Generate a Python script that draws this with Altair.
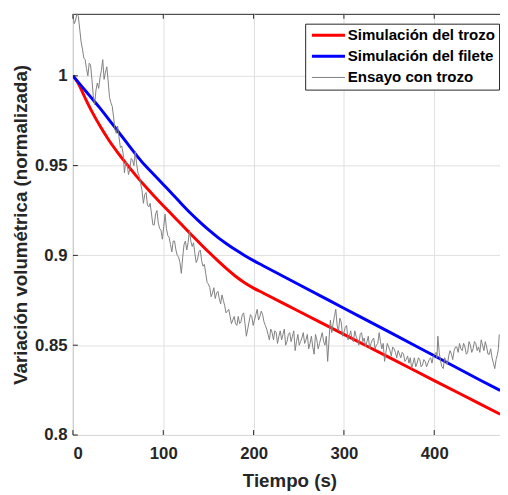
import altair as alt
import pandas as pd

series_names = ["Simulación del trozo", "Simulación del filete", "Ensayo con trozo"]
series_colors = ["#ff0000", "#0000ff", "#808080"]

red_t = [0, 5, 10, 15, 20, 30, 40, 50, 60, 70, 80, 90, 100, 110, 120, 130, 140, 150,
         160, 170, 180, 190, 200, 210, 250, 300, 350, 400, 450, 473]
red_v = [1.000, 0.9965, 0.9915, 0.986, 0.981, 0.972, 0.964, 0.957, 0.9505, 0.9443, 0.9385,
         0.933, 0.9277, 0.9225, 0.9173, 0.9121, 0.907, 0.902, 0.8972, 0.8926, 0.8884,
         0.8848, 0.8818, 0.8792, 0.8689, 0.856, 0.8432, 0.8303, 0.8175, 0.8116]

blue_t = [0, 10, 20, 30, 40, 50, 60, 70, 80, 90, 100, 110, 120, 130, 140, 150, 160,
          170, 180, 190, 200, 210, 250, 300, 350, 400, 450, 473]
blue_v = [1.000, 0.994, 0.988, 0.982, 0.9755, 0.969, 0.9625, 0.956, 0.950, 0.9448, 0.9395,
          0.9342, 0.9288, 0.9236, 0.9188, 0.9143, 0.9102, 0.9065, 0.9031, 0.9000, 0.8971,
          0.8944, 0.8838, 0.8706, 0.8574, 0.8441, 0.8308, 0.8248]

# measured test, samples read on a 3-s grid
test_t = [0, 3, 6, 9, 12, 15, 18, 21, 24, 27, 30, 33, 36, 39, 42, 45, 48, 51, 54, 57,
          60, 63, 66, 69, 72, 75, 78, 81, 84, 87, 90, 93, 96, 99, 102, 105, 108, 111, 114,
          117, 120, 123, 126, 129, 132, 135, 138, 141, 144, 147, 150, 153, 156, 159, 162,
          165, 168, 171, 174, 177, 180, 183, 186, 189, 192, 195, 198, 201, 204, 207, 210,
          213, 216, 219, 222, 225, 228, 231, 234, 237, 240, 243, 246, 249, 252, 255, 258,
          261, 264, 267, 270, 273, 276, 279, 282, 285, 288, 291, 294, 297, 300, 303, 306,
          309, 312, 315, 318, 321, 324, 327, 330, 333, 336, 339, 342, 345, 348, 351, 354,
          357, 360, 363, 366, 369, 372, 375, 378, 381, 384, 387, 390, 393, 396, 399, 402,
          404, 407, 410, 413, 416, 419, 422, 425, 428, 431, 434, 437, 440, 443, 446, 449,
          452, 455, 458, 461, 464, 467, 470, 472]
test_v = [1.034, 1.031, 1.033, 1.019, 1.010, 1.004, 1.007, 0.998, 0.984, 0.996, 0.999,
          1.009, 1.002, 0.997, 0.985, 0.977, 0.968, 0.966, 0.961, 0.946, 0.951, 0.948,
          0.953, 0.958, 0.946, 0.940, 0.929, 0.935, 0.927, 0.923, 0.917, 0.925, 0.915,
          0.909, 0.923, 0.911, 0.906, 0.908, 0.903, 0.899, 0.890, 0.906, 0.903, 0.914,
          0.905, 0.901, 0.898, 0.903, 0.894, 0.890, 0.884, 0.877, 0.882, 0.879, 0.876,
          0.878, 0.872, 0.869, 0.866, 0.864, 0.862, 0.866, 0.863, 0.868, 0.855, 0.863,
          0.866, 0.864, 0.870, 0.866, 0.867, 0.861, 0.856, 0.859, 0.853, 0.857, 0.855,
          0.853, 0.859, 0.852, 0.857, 0.855, 0.847, 0.856, 0.852, 0.857, 0.853, 0.848,
          0.855, 0.845, 0.853, 0.851, 0.857, 0.850, 0.841, 0.864, 0.862, 0.870, 0.858,
          0.863, 0.857, 0.861, 0.855, 0.853, 0.858, 0.853, 0.856, 0.852, 0.849, 0.855,
          0.851, 0.854, 0.850, 0.857, 0.848, 0.841, 0.851, 0.847, 0.849, 0.846, 0.847,
          0.843, 0.845, 0.842, 0.840, 0.837, 0.843, 0.840, 0.842, 0.839, 0.841, 0.840,
          0.843, 0.844, 0.846, 0.855, 0.841, 0.837, 0.841, 0.844, 0.845, 0.847, 0.849,
          0.851, 0.847, 0.849, 0.846, 0.850, 0.848, 0.851, 0.849, 0.853, 0.847, 0.849,
          0.845, 0.843, 0.837, 0.845, 0.856]

# measured test, samples read between the grid points
test_t_mid = [1.5, 4.5, 7.5, 10.5, 13.5, 16.5, 19.5, 22.5, 25.5, 28.5, 31.5, 34.5, 37.5,
              40.5, 43.5, 46.5, 49.5, 52.5, 55.5, 58.5, 61.5, 64.5, 67.5, 70.5, 73.5, 76.5,
              79.5, 82.5, 85.5, 88.5, 91.5, 94.5, 97.5, 100.5, 103.5, 106.5, 109.5, 112.5,
              115.5, 118.5, 121.5, 124.5, 127.5, 130.5, 133.5, 136.5, 139.5, 142.5, 145.5,
              148.5, 151.5, 154.5, 157.5, 160.5, 163.5, 166.5, 169.5, 172.5, 175.5, 178.5,
              181.5, 184.5, 187.5, 190.5, 193.5, 196.5, 199.5, 202.5, 205.5, 208.5, 211.5,
              214.5, 217.5, 220.5, 223.5, 226.5, 229.5, 232.5, 235.5, 238.5, 241.5, 244.5,
              247.5, 250.5, 253.5, 256.5, 259.5, 262.5, 265.5, 268.5, 271.5, 274.5, 277.5,
              280.5, 283.5, 286.5, 289.5, 292.5, 295.5, 298.5, 301.5, 304.5, 307.5, 310.5,
              313.5, 316.5, 319.5, 322.5, 325.5, 328.5, 331.5, 334.5, 337.5, 340.5, 343.5,
              346.5, 349.5, 352.5, 355.5, 358.5, 361.5, 364.5, 367.5, 370.5, 373.5, 376.5,
              379.5, 382.5, 385.5, 388.5, 391.5, 394.5, 397.5, 400.5, 403, 405.5, 408.5,
              411.5, 414.5, 417.5, 420.5, 423.5, 426.5, 429.5, 432.5, 435.5, 438.5, 441.5,
              444.5, 447.5, 450.5, 453.5, 456.5, 459.5, 462.5, 465.5, 468.5, 471]
test_v_mid = [1.029, 1.035, 1.026, 1.015, 1.009, 1.000, 1.006, 0.989, 0.992, 0.993, 1.003,
              0.998, 1.005, 0.988, 0.983, 0.970, 0.972, 0.960, 0.957, 0.952, 0.945, 0.954,
              0.950, 0.951, 0.944, 0.936, 0.934, 0.928, 0.929, 0.917, 0.923, 0.918, 0.914,
              0.916, 0.915, 0.910, 0.902, 0.908, 0.900, 0.896, 0.899, 0.908, 0.907, 0.908,
              0.907, 0.896, 0.902, 0.897, 0.895, 0.885, 0.882, 0.879, 0.876, 0.880, 0.873,
              0.875, 0.868, 0.870, 0.862, 0.866, 0.861, 0.862, 0.867, 0.862, 0.859, 0.867,
              0.861, 0.867, 0.864, 0.869, 0.863, 0.859, 0.853, 0.857, 0.858, 0.851, 0.858,
              0.856, 0.850, 0.856, 0.852, 0.858, 0.852, 0.850, 0.854, 0.851, 0.856, 0.851,
              0.849, 0.856, 0.848, 0.854, 0.852, 0.855, 0.853, 0.857, 0.866, 0.861, 0.865,
              0.855, 0.860, 0.853, 0.858, 0.852, 0.855, 0.850, 0.857, 0.854, 0.852, 0.848,
              0.853, 0.848, 0.851, 0.852, 0.851, 0.846, 0.849, 0.844, 0.848, 0.843, 0.845,
              0.846, 0.841, 0.844, 0.843, 0.840, 0.838, 0.843, 0.838, 0.842, 0.838, 0.842,
              0.840, 0.845, 0.843, 0.846, 0.838, 0.843, 0.839, 0.847, 0.842, 0.849, 0.846,
              0.848, 0.851, 0.845, 0.852, 0.846, 0.852, 0.847, 0.846, 0.850, 0.852, 0.845,
              0.848, 0.840, 0.842, 0.848]

x_ticks = [0, 100, 200, 300, 400]
y_ticks = [0.8, 0.85, 0.9, 0.95, 1.0]

W, H = 434, 428
FONT = "Liberation Sans"
AX = "#262626"

sim_df = pd.DataFrame({
    "t": red_t + blue_t,
    "v": red_v + blue_v,
    "series": [series_names[0]] * len(red_t) + [series_names[1]] * len(blue_t),
})
test_df = pd.DataFrame({"t": test_t + test_t_mid, "v": test_v + test_v_mid,
                        "series": series_names[2]}).sort_values("t")

xs = alt.Scale(domain=[0, 472.8], nice=False, zero=False)
ys = alt.Scale(domain=[0.8, 1.0345], nice=False, zero=False)

X = alt.X("t:Q", scale=xs, axis=alt.Axis(values=x_ticks, title="Tiempo (s)", titleX=220))
Y = alt.Y("v:Q", scale=ys, axis=alt.Axis(values=y_ticks, format="~g",
                                          title="Variación volumétrica (normalizada)"))

leg = alt.Legend(title=None, orient="none", legendX=236, legendY=10,
                 symbolType="M-2.8,0H2.8", symbolSize=144, symbolOffset=12,
                 symbolStrokeWidth={"expr": "datum.value === 'Ensayo con trozo' ? 1 : 3"},
                 labelFont=FONT, labelFontSize=15.3, labelFontWeight="bold",
                 labelColor="black", labelOffset=12, strokeColor=AX, fillColor="white",
                 padding=4, rowPadding=5.5)

color = alt.Color("series:N", scale=alt.Scale(domain=series_names, range=series_colors), legend=leg)

sims = alt.Chart(sim_df).mark_line(clip=True, strokeWidth=3, interpolate="monotone").encode(
    x=X, y=Y, color=color, detail="series:N")
test = alt.Chart(test_df).mark_line(clip=True, strokeWidth=1).encode(x=X, y=Y, color=color)

xt_df = pd.DataFrame({"t": x_ticks})
yt_df = pd.DataFrame({"v": y_ticks})
bottom_ticks = alt.Chart(xt_df).mark_rule(color=AX, strokeWidth=1).encode(
    x=X, y=alt.value(H), y2=alt.value(H - 5))
top_ticks = alt.Chart(xt_df).mark_rule(color=AX, strokeWidth=1).encode(
    x=X, y=alt.value(0), y2=alt.value(5))
left_ticks = alt.Chart(yt_df).mark_rule(color=AX, strokeWidth=1).encode(
    y=Y, x=alt.value(0), x2=alt.value(5))

chart = alt.layer(sims, test, bottom_ticks, top_ticks, left_ticks).properties(
    width=W, height=H,
    autosize=alt.AutoSizeParams(type="none"),
    padding={"left": 66, "top": 2, "right": 0, "bottom": 55},
).configure(font=FONT).configure_view(
    stroke=AX, strokeWidth=1
).configure_axis(
    grid=True, gridColor="#dfdfdf", gridWidth=1, domain=False, ticks=False,
    labelFont=FONT, labelFontSize=17, labelFontWeight="bold", labelColor=AX,
    titleFont=FONT, titleFontSize=19, titleFontWeight="bold", titleColor=AX,
).configure_axisX(
    labelPadding=11, titlePadding=10
).configure_axisY(
    labelPadding=6, titlePadding=4
)

chart.save("out.html", embed_options={"renderer": "svg", "actions": False})
